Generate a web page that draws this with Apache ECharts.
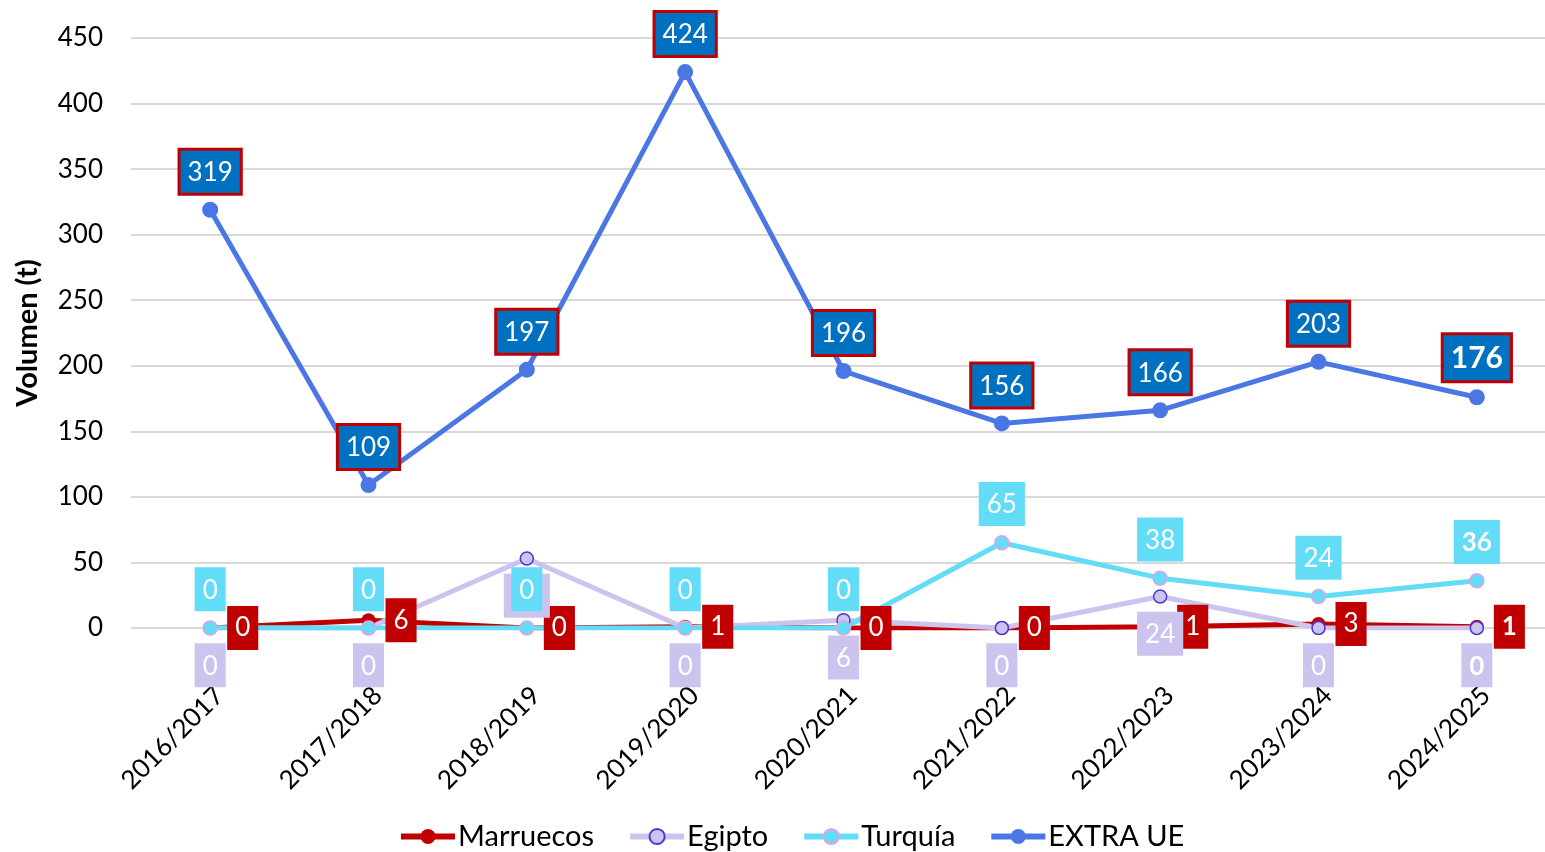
<!DOCTYPE html>
<html>
<head>
<meta charset="utf-8">
<script src="https://cdn.jsdelivr.net/npm/echarts@6/dist/echarts.min.js"></script>
<style>
html,body{margin:0;padding:0;background:#fff;overflow:hidden;}
#chart{width:1560px;height:852px;}
</style>
</head>
<body>
<div id="chart"></div>
<script>
const categories = ['2016/2017','2017/2018','2018/2019','2019/2020','2020/2021','2021/2022','2022/2023','2023/2024','2024/2025'];
const marruecos = [0, 6, 0, 1, 0, 0, 1, 3, 1];
const egipto = [0, 0, 53, 0, 6, 0, 24, 0, 0];
const turquia = [0, 0, 0, 0, 0, 65, 38, 24, 36];
const extraUE = [319, 109, 197, 424, 196, 156, 166, 203, 176];
const yTicks = { min: 0, max: 450, interval: 50 };

const FONT = 'Lato, "Open Sans", sans-serif';
const lastIdx = categories.length - 1;

function withBold(arr, extra) {
  return arr.map((v, i) => i === lastIdx ? { value: v, label: Object.assign({ fontWeight: 'bold' }, extra || {}) } : v);
}

const boxLabel = (pos, dist, bg) => ({
  show: true, position: pos, distance: dist,
  color: '#fff', fontSize: 26, lineHeight: 32, fontFamily: FONT,
  backgroundColor: bg, padding: [7, 8, 5, 8]
});

const chart = echarts.init(document.getElementById('chart'));
chart.setOption({
  animation: false,
  textStyle: { fontFamily: FONT },
  grid: { left: 131, right: 4, top: 38, height: 590 },
  xAxis: {
    type: 'category',
    data: categories,
    boundaryGap: true,
    axisLine: { show: false },
    axisTick: { show: false },
    axisLabel: { rotate: 45, fontSize: 26, color: '#000', fontFamily: FONT, margin: 54, interval: 0, verticalAlign: 'top' }
  },
  yAxis: {
    type: 'value',
    min: yTicks.min, max: yTicks.max, interval: yTicks.interval,
    name: 'Volumen (t)',
    nameLocation: 'middle',
    nameGap: 89,
    nameRotate: 90,
    nameTextStyle: { fontSize: 29, fontWeight: 'bold', color: '#000', fontFamily: FONT },
    axisLabel: { fontSize: 26, color: '#000', margin: 28, fontFamily: FONT },
    axisLine: { show: false },
    axisTick: { show: false },
    splitLine: { lineStyle: { color: '#d9d9d9', width: 2 } }
  },
  legend: {
    bottom: -4,
    left: 393,
    itemWidth: 54,
    itemHeight: 19,
    itemGap: 33,
    lineStyle: { width: 6 },
    textStyle: { fontSize: 29, color: '#000', fontFamily: FONT, padding: [0, 0, 0, -2] },
    data: ['Marruecos', 'Egipto', 'Turquía', 'EXTRA UE']
  },
  series: [
    {
      name: 'Marruecos', type: 'line', data: withBold(marruecos),
      lineStyle: { color: '#C00000', width: 5 },
      itemStyle: { color: '#C00000' },
      symbol: 'circle', symbolSize: 14,
      label: boxLabel('right', 10, '#C00000')
    },
    {
      name: 'Egipto', type: 'line', data: withBold(egipto),
      lineStyle: { color: '#CCC3EF', width: 5 },
      itemStyle: { color: '#CCC3EF', borderColor: '#4F35D6', borderWidth: 1.5 },
      symbol: 'circle', symbolSize: 13,
      label: boxLabel('bottom', 8, '#CCC3EF')
    },
    {
      name: 'Turquía', type: 'line', data: withBold(turquia),
      lineStyle: { color: '#63DCF7', width: 5 },
      itemStyle: { color: '#63DCF7', borderColor: '#E8A2DD', borderWidth: 1.5 },
      symbol: 'circle', symbolSize: 14,
      label: boxLabel('top', 9, '#63DCF7')
    },
    {
      name: 'EXTRA UE', type: 'line', data: withBold(extraUE, { fontSize: 30, lineHeight: 35 }),
      lineStyle: { color: '#4A77E4', width: 5 },
      itemStyle: { color: '#4A77E4' },
      symbol: 'circle', symbolSize: 16,
      label: Object.assign(boxLabel('top', 9, '#0070C0'), {
        borderColor: '#C00000', borderWidth: 3, padding: [6, 7, 4, 7]
      })
    }
  ]
});
</script>
</body>
</html>
